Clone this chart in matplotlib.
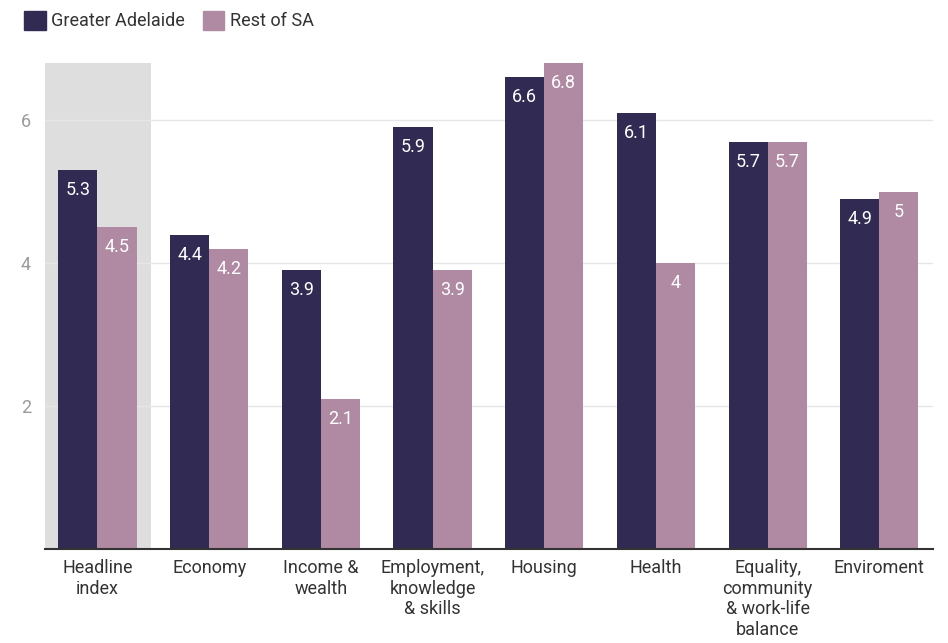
import matplotlib
matplotlib.use("Agg")
import matplotlib.pyplot as plt
import numpy as np
from matplotlib.patches import Patch

categories = ["Headline\nindex", "Economy", "Income &\nwealth", "Employment,\nknowledge\n& skills",
              "Housing", "Health", "Equality,\ncommunity\n& work-life\nbalance", "Enviroment"]
greater_adelaide = [5.3, 4.4, 3.9, 5.9, 6.6, 6.1, 5.7, 4.9]
rest_of_sa = [4.5, 4.2, 2.1, 3.9, 6.8, 4.0, 5.7, 5.0]
series_names = ["Greater Adelaide", "Rest of SA"]
yticks = [2, 4, 6]

plt.rcParams['font.family'] = ['Roboto', 'DejaVu Sans']

dark = "#312a52"
pink = "#b08aa3"

fig = plt.figure(figsize=(9.48, 6.43), dpi=100)
ax = fig.add_axes([45/948, 1-549/643, (933-45)/948, (549-63)/643])

x = np.arange(len(categories))
w = 0.35
ax.axvspan(-0.47, 0.48, color="#dedede", zorder=0, lw=0)
b1 = ax.bar(x - w/2, greater_adelaide, w, color=dark, zorder=2)
b2 = ax.bar(x + w/2, rest_of_sa, w, color=pink, zorder=2)

def fmt(v):
    return f"{v:g}"

for bars, vals in ((b1, greater_adelaide), (b2, rest_of_sa)):
    for rect, v in zip(bars, vals):
        ax.annotate(fmt(v), (rect.get_x() + rect.get_width()/2, v),
                    xytext=(0, -8), textcoords="offset points",
                    ha="center", va="top", color="white", fontsize=13, zorder=3)

ax.set_xlim(-0.47, 7.48)
ax.set_ylim(0, 6.8)
ax.set_yticks(yticks)
ax.set_yticklabels([str(t) for t in yticks])
ax.yaxis.grid(True, color="#e6e6e6", lw=1, zorder=1)
ax.set_axisbelow(True)
ax.tick_params(axis="y", length=0, labelcolor="#9a9a9a", labelsize=13, pad=10)
ax.set_xticks(x)
ax.set_xticklabels(categories, fontsize=13, color="#333333", linespacing=1.2)
ax.tick_params(axis="x", length=0, pad=7)
for s in ["top", "right", "left"]:
    ax.spines[s].set_visible(False)
ax.spines["bottom"].set_color("#333333")
ax.spines["bottom"].set_linewidth(1.5)
ax.spines["bottom"].set_zorder(4)

handles = [Patch(color=dark), Patch(color=pink)]
fig.legend(handles, series_names, loc="upper left", bbox_to_anchor=(0.008, 1.008),
           ncol=2, frameon=False, fontsize=13, labelcolor="#333333",
           handlelength=1.2, handleheight=1.2,
           handletextpad=0.3, columnspacing=1.0)

fig.savefig("out.png", dpi=100)
